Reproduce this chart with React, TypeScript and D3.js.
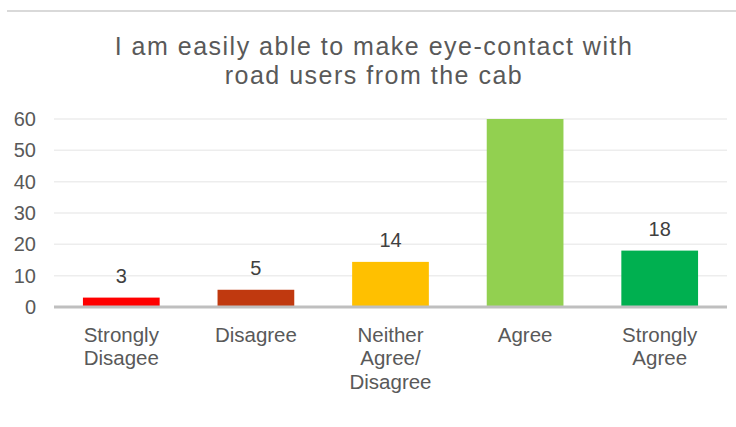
import React from "react";
import * as d3 from "d3";

const categories = [["Strongly", "Disagee"], ["Disagree"], ["Neither", "Agree/", "Disagree"], ["Agree"], ["Strongly", "Agree"]];
const values = [3, 5.5, 14.4, 60, 18];
const valueLabels = ["3", "5", "14", "", "18"];
const colors = ["#ff0000", "#c0390f", "#ffc000", "#92d050", "#00b050"];
const yTicks = [0, 10, 20, 30, 40, 50, 60];
const titleLines = ["I am easily able to make eye-contact with", "road users from the cab"];

export default function App() {
  const W = 736, H = 427;
  const x = d3.scaleBand<number>().domain(values.map((_, i) => i)).range([54, 727]).paddingInner(0.43).paddingOuter(0.215);
  const y = d3.scaleLinear().domain([0, 60]).range([307, 119]);
  const font = "Liberation Sans, Arial, sans-serif";
  const txt = "#595959";
  return (
    <svg width={W} height={H} style={{ position: "absolute", left: 0, top: 0, background: "#fff" }} fontFamily={font}>
      <line x1={7} x2={736} y1={11} y2={11} stroke="#d9d9d9" strokeWidth={2} />
      {titleLines.map((t, i) => (
        <text key={i} x={374} y={55 + i * 29} textAnchor="middle" fontSize={25} fill={txt} letterSpacing={1.5}>{t}</text>
      ))}
      {yTicks.map((t) => (
        <g key={t}>
          {t > 0 && <line x1={54} x2={727} y1={y(t)} y2={y(t)} stroke="#ededed" strokeWidth={1.5} />}
          <text x={36} y={y(t) + 7} textAnchor="end" fontSize={20} fill={txt}>{t}</text>
        </g>
      ))}
      {values.map((v, i) => (
        <rect key={i} x={x(i)} y={y(v)} width={x.bandwidth()} height={y(0) - y(v)} fill={colors[i]} />
      ))}
      <line x1={54} x2={727} y1={y(0)} y2={y(0)} stroke="#bfbfbf" strokeWidth={3} />
      {values.map((v, i) => (
        valueLabels[i] ? <text key={i} x={(x(i) as number) + x.bandwidth() / 2} y={y(v) - 15} textAnchor="middle" fontSize={20} fill="#404040">{valueLabels[i]}</text> : null
      ))}
      {categories.map((lines, i) => (
        <text key={i} x={(x(i) as number) + x.bandwidth() / 2} y={341.5} textAnchor="middle" fontSize={20.5} fill={txt}>
          {lines.map((l, j) => (
            <tspan key={j} x={(x(i) as number) + x.bandwidth() / 2} dy={j === 0 ? 0 : 23.5}>{l}</tspan>
          ))}
        </text>
      ))}
    </svg>
  );
}
